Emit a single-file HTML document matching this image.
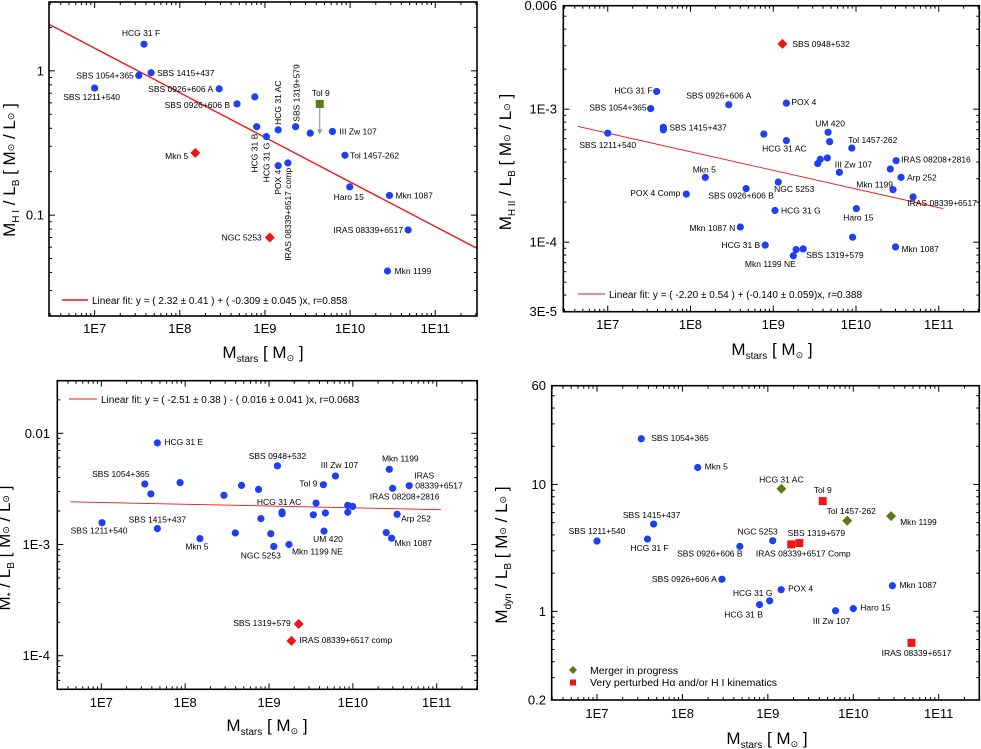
<!DOCTYPE html>
<html><head><meta charset="utf-8">
<style>
html,body{margin:0;padding:0;background:#fff;}
svg{display:block;font-family:"Liberation Sans",Arial,sans-serif;}
</style></head>
<body>
<svg id="fig" width="981" height="749" viewBox="0 0 981 749" xmlns="http://www.w3.org/2000/svg"></svg>
<script>
// ---------- Panel 1: M_HI / L_B ----------
const p1Names = ["HCG 31 F","SBS 1054+365","SBS 1415+437","SBS 1211+540","SBS 0926+606 A","SBS 0926+606 B","","HCG 31 B","HCG 31 G","HCG 31 AC","SBS 1319+579","","III Zw 107","POX 4","IRAS 08339+6517 comp","Tol 1457-262","Haro 15","Mkn 1087","IRAS 08339+6517","Mkn 1199","Mkn 5","NGC 5253","Tol 9"];
const p1Mass = [3.8e7,3.3e7,4.6e7,1e7,2.9e8,4.7e8,7.6e8,8.0e8,1.04e9,1.43e9,2.29e9,3.4e9,6.2e9,1.43e9,1.86e9,8.7e9,9.9e9,2.9e10,4.8e10,2.75e10,1.52e8,1.14e9,4.4e9];
const p1Ratio = [1.53,0.93,0.97,0.76,0.75,0.59,0.66,0.41,0.35,0.39,0.41,0.37,0.38,0.22,0.23,0.26,0.157,0.137,0.079,0.041,0.27,0.07,0.59];
const p1Type = ["c","c","c","c","c","c","c","c","c","c","c","c","c","c","c","c","c","c","c","c","d","d","s"];
const p1Fit = [2.32,-0.309];
const p1LimitTo = 0.37;
const p1Lab = [[-3,-8,"middle"],[-5,3,"end"],[6,3,"start"],[-3,12,"middle"],[-6,3,"end"],[-7,4,"end"],null,[1,7,"end",1],[3,6,"end",1],[3,-5,"start",1],[4,-5,"start",1],null,[7,3,"start"],[3,4,"end",1],[3,5,"end",1],[5,3,"start"],[-1,13,"middle"],[6,3,"start"],[-5,3,"end"],[7,3,"start"],[-7,6,"end"],[-8,3,"end"],[1,-8,"middle"]];

// ---------- Panel 2: M_HII / L_B ----------
const p2Names = ["HCG 31 F","SBS 1054+365","SBS 1415+437","","SBS 1211+540","SBS 0926+606 A","POX 4","","HCG 31 AC","UM 420","","Tol 1457-262","","","","III Zw 107","IRAS 08208+2816","","Arp 252","Mkn 1199","IRAS 08339+6517","Mkn 5","POX 4 Comp","SBS 0926+606 B","NGC 5253","HCG 31 G","Haro 15","Mkn 1087 N","HCG 31 B","","SBS 1319+579","Mkn 1199 NE","","Mkn 1087","SBS 0948+532"];
const p2Mass = [3.9e7,3.3e7,4.7e7,4.7e7,1e7,2.9e8,1.44e9,7.7e8,1.44e9,4.6e9,4.8e9,8.9e9,3.7e9,4.5e9,3.45e9,6.3e9,3.05e10,2.6e10,3.5e10,2.8e10,4.9e10,1.51e8,8.9e7,4.7e8,1.15e9,1.05e9,1.01e10,4.0e8,8.0e8,1.89e9,2.3e9,1.75e9,9.1e9,3.0e10,1.29e9];
const p2Ratio = [1.36e-3,1.01e-3,7.3e-4,7.0e-4,6.6e-4,1.08e-3,1.11e-3,6.5e-4,5.8e-4,6.7e-4,5.7e-4,5.1e-4,4.2e-4,4.3e-4,3.9e-4,3.35e-4,4.1e-4,3.55e-4,3.07e-4,2.48e-4,2.19e-4,3.07e-4,2.3e-4,2.53e-4,2.83e-4,1.73e-4,1.79e-4,1.30e-4,9.5e-5,8.8e-5,8.9e-5,7.9e-5,1.09e-4,9.2e-5,3.1e-3];
const p2Type = p2Names.map((n,i)=> i===p2Names.length-1 ? "d" : "c");
const p2Fit = [-2.20,-0.140];
const p2Lab = [[-4,2,"end"],[-4,2,"end"],[6,3,"start"],null,[0,15,"middle"],[-10,-6,"middle"],[5,2,"start"],null,[-2,11,"middle"],[2,-6,"middle"],null,[21,-5,"middle"],null,null,null,[14,-5,"middle"],[5,2,"start"],null,[6,3,"start"],[0,-2,"end"],[29,9,"middle"],[-1,-5,"middle"],[-6,2,"end"],[-5,10,"middle"],[16,10,"middle"],[6,3,"start"],[2,12,"middle"],[-5,4,"end"],[-5,3,"end"],null,[3,9,"start"],[-23,11,"middle"],null,[6,5,"start"],[10,3,"start"]];

// ---------- Panel 3: M* / L_B ----------
const p3Names = ["HCG 31 E","SBS 1054+365","","","SBS 1211+540","SBS 1415+437","Mkn 5","","","","","","SBS 0948+532","","NGC 5253","HCG 31 AC","","Mkn 1199 NE","","Tol 9","III Zw 107","","","UM 420","","","","Mkn 1199","IRAS 08208+2816","IRAS","Arp 252","","Mkn 1087","SBS 1319+579","IRAS 08339+6517 comp"];
const p3Mass = [4.66e7,3.3e7,3.9e7,8.7e7,1.02e7,4.66e7,1.5e8,2.9e8,3.96e8,4.7e8,7.5e8,8.0e8,1.26e9,1.05e9,1.14e9,1.43e9,1.43e9,1.73e9,3.64e9,4.45e9,6.2e9,3.38e9,4.7e9,4.53e9,8.7e9,9.95e9,8.7e9,2.72e10,2.98e10,4.7e10,3.37e10,2.5e10,2.9e10,2.26e9,1.85e9];
const p3Ratio = [8.2e-3,3.5e-3,2.85e-3,3.6e-3,1.57e-3,1.39e-3,1.13e-3,2.77e-3,1.27e-3,3.4e-3,3.13e-3,1.71e-3,5.1e-3,1.25e-3,9.6e-4,1.96e-3,1.89e-3,1.0e-3,2.36e-3,3.45e-3,4.13e-3,1.85e-3,1.92e-3,1.32e-3,2.25e-3,2.2e-3,1.95e-3,4.74e-3,3.2e-3,3.38e-3,1.87e-3,1.28e-3,1.14e-3,1.93e-4,1.36e-4];
const p3Type = p3Names.map((n,i)=> i>=p3Names.length-2 ? "d" : "c");
const p3Fit = [-2.51,-0.016];
const p3Lab = [[7,2,"start"],[-24,-7,"middle"],null,null,[-3,11,"middle"],[0,-6,"middle"],[-3,11,"middle"],null,null,null,null,null,[0,-7,"middle"],null,[-13,12,"middle"],[-3,-7,"middle"],null,[3,10,"start"],null,[-6,2,"end"],[4,-8,"middle"],null,null,[4,11,"middle"],null,null,null,[11,-8,"middle"],[12,11,"middle"],[15,-7,"middle","08339+6517"],[4,7,"start"],null,[3,8,"start"],[-8,2,"end"],[8,2,"start"]];

// ---------- Panel 4: M_dyn / L_B ----------
const p4Names = ["SBS 1054+365","Mkn 5","SBS 1415+437","SBS 1211+540","HCG 31 F","SBS 0926+606 B","NGC 5253","SBS 0926+606 A","POX 4","HCG 31 G","HCG 31 B","III Zw 107","Haro 15","Mkn 1087","HCG 31 AC","Tol 1457-262","Mkn 1199","Tol 9","SBS 1319+579","IRAS 08339+6517 Comp","IRAS 08339+6517"];
const p4Mass = [3.3e7,1.51e8,4.6e7,1.0e7,3.9e7,4.7e8,1.14e9,2.9e8,1.43e9,1.05e9,8.0e8,6.2e9,1.0e10,2.87e10,1.44e9,8.5e9,2.77e10,4.39e9,2.34e9,1.88e9,4.8e10];
const p4Ratio = [22.9,13.6,4.87,3.58,3.71,3.25,3.6,1.79,1.48,1.21,1.13,1.01,1.05,1.59,9.25,5.17,5.63,7.39,3.45,3.37,0.564];
const p4Type = ["c","c","c","c","c","c","c","c","c","c","c","c","c","c","g","g","g","s","s","s","s"];
const p4Lab = [[10,2,"start"],[7,2,"start"],[-2,-6,"middle"],[0,-7,"middle"],[2,12,"middle"],[-30,10,"middle"],[-15,-6,"middle"],[-5,3,"end"],[7,2,"start"],[-17,-5,"middle"],[-16,13,"middle"],[-4,13,"middle"],[7,2,"start"],[7,2,"start"],[0,-6,"middle"],[4,-7,"middle"],[9,9,"start"],[0,-8,"middle"],[17,-7,"middle"],[12,12,"middle"],[5,13,"middle"]];

const NS = "http://www.w3.org/2000/svg";
const svg = document.getElementById("fig");
const BLUE="#1f3ff2", RED="#f21414", GREEN="#5a7b14";
function mk(tag, attrs, parent){const e=document.createElementNS(NS,tag);for(const k in attrs)e.setAttribute(k,attrs[k]);(parent||svg).appendChild(e);return e;}
const L10=Math.log10;

function makePanel(cfg){
  const g = mk("g",{});
  
  
  const sx = v => cfg.x0 + (L10(v)-cfg.xmin)/(cfg.xmax-cfg.xmin)*(cfg.x1-cfg.x0);
  const sy = v => cfg.y1 - (L10(v)-cfg.ymin)/(cfg.ymax-cfg.ymin)*(cfg.y1-cfg.y0);
  const tg = mk("g",{stroke:"#000","stroke-width":1},g);
  
  
  for(let d=6; d<=11; d++){
    for(let m=1;m<=9;m++){
      const v=m*Math.pow(10,d); const lv=L10(v);
      if(lv<cfg.xmin||lv>cfg.xmax) continue;
      const x=sx(v), len = m===1?6:3;
      mk("line",{x1:x,x2:x,y1:cfg.y1,y2:cfg.y1-len},tg);
      mk("line",{x1:x,x2:x,y1:cfg.y0,y2:cfg.y0+len},tg);
    }
  }
  for(let d=-6; d<=2; d++){
    for(let m=1;m<=9;m++){
      const v=m*Math.pow(10,d); const lv=L10(v);
      if(lv<cfg.ymin-1e-6||lv>cfg.ymax+1e-6) continue;
      const y=sy(v), len = m===1?6:3;
      mk("line",{x1:cfg.x0,x2:cfg.x0+len,y1:y,y2:y},tg);
      mk("line",{x1:cfg.x1,x2:cfg.x1-len,y1:y,y2:y},tg);
    }
  }
  ["1E7","1E8","1E9","1E10","1E11"].forEach((t,i)=>{
    const e=mk("text",{x:sx(Math.pow(10,7+i)),y:cfg.xlabY,"font-size":13,"text-anchor":"middle"},g);
    e.textContent=t;
    
    
  });
  cfg.yTicks.forEach((v,i)=>{
    const e=mk("text",{x:cfg.ylabX,y:sy(v)+4.5,"font-size":13,"text-anchor":"end"},g);
    e.textContent=cfg.yTickLabels[i];
    
    
  });
  if(cfg.fit){
    const f = lm => Math.pow(10, cfg.fit[0]+cfg.fit[1]*lm);
    const a=Math.pow(10,cfg.fitFrom), b=Math.pow(10,cfg.fitTo);
    const ln=mk("line",{x1:sx(a),y1:sy(f(cfg.fitFrom)),x2:sx(b),y2:sy(f(cfg.fitTo)),stroke:RED,"stroke-width":cfg.fitW},g);
    
    
  }
  cfg.mass.forEach((m,i)=>{
    const x=sx(m), y=sy(cfg.ratio[i]), t=cfg.type[i];
    let e;
    if(t==="c") e=mk("circle",{cx:x,cy:y,r:3.6,fill:BLUE},g);
    else if(t==="d") e=mk("polygon",{points:`${x},${y-5} ${x+5},${y} ${x},${y+5} ${x-5},${y}`,fill:RED},g);
    else if(t==="g") e=mk("polygon",{points:`${x},${y-5} ${x+5},${y} ${x},${y+5} ${x-5},${y}`,fill:GREEN},g);
    else e=mk("rect",{x:x-4,y:y-4,width:8,height:8,fill:cfg.sqColor||RED},g);
    
    
    if(cfg.limit && t==="s"){
      const y2=sy(cfg.limit);
      const ar=mk("g",{stroke:"#6f8f9a","stroke-width":1,fill:"none"},g);
      
      
      mk("line",{x1:x,x2:x,y1:y+4,y2:y2},ar);
      mk("polyline",{points:`${x-2},${y2-4} ${x},${y2} ${x+2},${y2-4}`},ar);
    }
    const lab=cfg.lab[i];
    if(lab && cfg.names[i]){
      const lx=x+lab[0], ly=y+lab[1];
      const tx=mk("text",{x:lx,y:ly,"font-size":8.5,"text-anchor":lab[2]},g);
      if(lab[3]===1) tx.setAttribute("transform",`rotate(-90 ${lx} ${ly})`);
      tx.textContent=cfg.names[i];
      
      
      if(typeof lab[3]==="string"){
        const t2=mk("text",{x:x+6,y:y+3,"font-size":8.5},g);
        t2.textContent=lab[3];
        
        
      }
    }
  });
  const fr=mk("rect",{x:cfg.x0,y:cfg.y0,width:cfg.x1-cfg.x0,height:cfg.y1-cfg.y0,fill:"none",stroke:"#000","stroke-width":1.6},g);
  
  
  const xt=mk("text",{x:cfg.xtX,y:cfg.xtY,"font-size":17,"text-anchor":"middle"},g);
  xt.innerHTML='M<tspan font-size="10" dy="4">stars</tspan><tspan dy="-4"> [ M</tspan><tspan font-size="9" dy="3">⊙</tspan><tspan dy="-3"> ]</tspan>';
  
  
  const yt=mk("text",{x:cfg.ytX,y:cfg.ytY,"font-size":17,"text-anchor":"middle",transform:`rotate(-90 ${cfg.ytX} ${cfg.ytY})`},g);
  yt.innerHTML='M<tspan font-size="10" dy="4">'+cfg.ysub+'</tspan><tspan dy="-4"> / L</tspan><tspan font-size="10" dy="4">B</tspan><tspan dy="-4">  [ M</tspan><tspan font-size="9" dy="-1">⊙</tspan><tspan dy="1"> / L</tspan><tspan font-size="9" dy="-1">⊙</tspan><tspan dy="1"> ]</tspan>';
  
  
  if(cfg.legend){
    const lg=mk("g",{},g);
    
    
    mk("line",{x1:cfg.legend[0],x2:cfg.legend[1],y1:cfg.legend[2],y2:cfg.legend[2],stroke:RED,"stroke-width":cfg.fitW},lg);
    const lt=mk("text",{x:cfg.legend[1]+4,y:cfg.legend[2]+4,"font-size":10},lg);
    lt.textContent=cfg.legendText;
    
    
  }
}

makePanel({name:"panel-hi-ratio",x0:49,x1:477,y0:2,y1:316,xmin:6.464,xmax:11.49,ymin:L10(0.02),ymax:L10(3),
  mass:p1Mass,ratio:p1Ratio,type:p1Type,names:p1Names,lab:p1Lab,fit:p1Fit,fitFrom:6.464,fitTo:11.49,fitW:1.4,limit:p1LimitTo,sqColor:GREEN,
  yTicks:[1,0.1],yTickLabels:["1","0.1"],xlabY:333,ylabX:44,xtX:263,xtY:358,ytX:15,ytY:170,ysub:"H I",
  legend:[62,88,300],legendText:"Linear fit: y = ( 2.32 ± 0.41 ) + ( -0.309 ± 0.045 )x, r=0.858"});
makePanel({name:"panel-hii-ratio",x0:563.3,x1:979.3,y0:5.7,y1:311.7,xmin:6.463,xmax:11.49,ymin:L10(3e-5),ymax:L10(0.006),
  mass:p2Mass,ratio:p2Ratio,type:p2Type,names:p2Names,lab:p2Lab,fit:p2Fit,fitFrom:6.637,fitTo:11.056,fitW:0.9,
  yTicks:[0.006,1e-3,1e-4,3e-5],yTickLabels:["0.006","1E-3","1E-4","3E-5"],xlabY:329,ylabX:557,xtX:772,xtY:355,ytX:511,ytY:162,ysub:"H II",
  legend:[578,605,294],legendText:"Linear fit: y = ( -2.20 ± 0.54 ) + (-0.140 ± 0.059)x, r=0.388"});
makePanel({name:"panel-stellar-ratio",x0:57.3,x1:477.3,y0:380.7,y1:689.3,xmin:6.475,xmax:11.484,ymin:-4.302,ymax:-1.527,
  mass:p3Mass,ratio:p3Ratio,type:p3Type,names:p3Names,lab:p3Lab,fit:p3Fit,fitFrom:6.634,fitTo:11.048,fitW:0.9,
  yTicks:[0.01,1e-3,1e-4],yTickLabels:["0.01","1E-3","1E-4"],xlabY:707,ylabX:50,xtX:267,xtY:731,ytX:10,ytY:548,ysub:"*",
  legend:[69,97,399],legendText:"Linear fit: y = ( -2.51 ± 0.38 ) - ( 0.016 ± 0.041 )x, r=0.0683"});
makePanel({name:"panel-dyn-ratio",x0:551.7,x1:979.3,y0:385.7,y1:700,xmin:6.47,xmax:11.475,ymin:L10(0.2),ymax:L10(60),
  mass:p4Mass,ratio:p4Ratio,type:p4Type,names:p4Names,lab:p4Lab,
  yTicks:[60,10,1,0.2],yTickLabels:["60","10","1","0.2"],xlabY:718,ylabX:546,xtX:767,xtY:744,ytX:507,ytY:555,ysub:"dyn"});

const lg4=mk("g",{});


mk("polygon",{points:"573,666 577,670 573,674 569,670",fill:GREEN},lg4);
const l41=mk("text",{x:590,y:674,"font-size":10.5},lg4);
l41.textContent="Merger in progress";


mk("rect",{x:570,y:679.5,width:6,height:6,fill:RED},lg4);
const l42=mk("text",{x:590,y:686,"font-size":10.5},lg4);
l42.textContent="Very perturbed Hα and/or H I kinematics";


</script>
</body></html>
